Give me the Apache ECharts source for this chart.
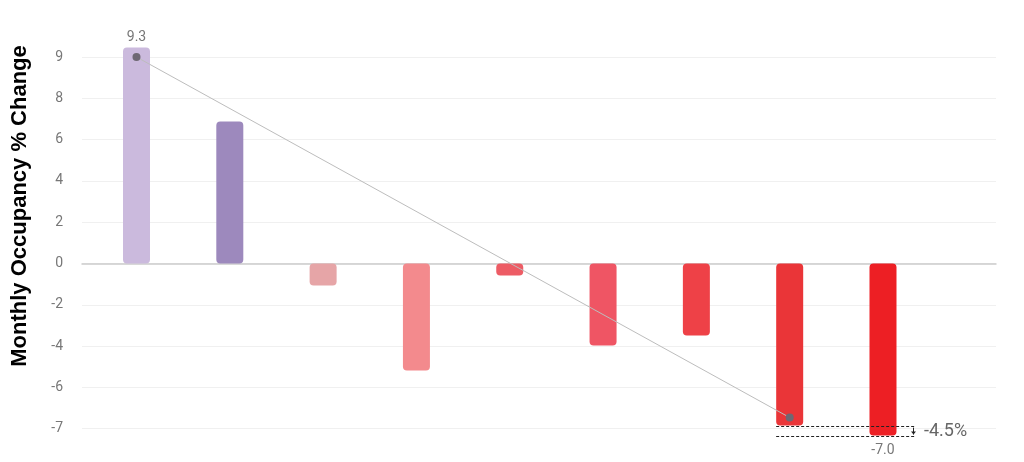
<!DOCTYPE html>
<html>
<head>
<meta charset="utf-8">
<script src="https://cdn.jsdelivr.net/npm/echarts@6/dist/echarts.min.js"></script>
<style>
html,body{margin:0;padding:0;background:#fff;}
#chart{width:1024px;height:462px;}
</style>
</head>
<body>
<div id="chart"></div>
<script>
// Month positions (no category labels shown in the reference)
const monthIndex = [0, 1, 2, 3, 4, 5, 6, 7, 8];
// Bar heights as plotted against the y axis
const values = [10.46, 6.88, -1.07, -5.18, -0.58, -3.97, -3.49, -7.85, -8.33];
const barColors = ['#cbbadd', '#9d89bd', '#e6a5a7', '#f38a8d', '#ed5c65', '#ef5564', '#ee4147', '#ea3538', '#ed1f24'];
// Value labels shown on bars
const valueLabels = ['9.3', '', '', '', '', '', '', '', '-7.0'];
// Trend line endpoints (month index, value)
const trendIndex = [0, 7];
const trendValues = [10.0, -7.46];
// Y tick labels as printed
const yTickValues = [10, 8, 6, 4, 2, 0, -2, -4, -6, -8];
const yTickTexts = ['9', '8', '6', '4', '2', '0', '-2', '-4', '-6', '-7'];
const yTitle = 'Monthly Occupancy % Change';
const changeText = '-4.5%';

const chart = echarts.init(document.getElementById('chart'), null, {renderer: 'canvas'});

const barData = monthIndex.map((m, i) => ({
  value: [m, values[i]],
  itemStyle: {color: barColors[i]},
  label: valueLabels[i] ? {
    show: true,
    position: values[i] >= 0 ? 'top' : 'bottom',
    formatter: valueLabels[i],
    color: '#777',
    fontSize: 14,
    fontFamily: 'Roboto',
    distance: values[i] >= 0 ? 3 : 8
  } : {show: false}
}));

const last = monthIndex.length - 1;
const prev = last - 1;

const option = {
  animation: false,
  backgroundColor: '#fff',
  grid: {left: 82, right: 28, top: 57, bottom: 33.3},
  xAxis: {
    type: 'value',
    min: -0.584,
    max: 9.211,
    axisLine: {show: true, onZero: true, lineStyle: {color: '#cccccc', width: 1.5}},
    axisTick: {show: false},
    axisLabel: {show: false},
    splitLine: {show: false}
  },
  yAxis: {
    type: 'value',
    min: -8,
    max: 10,
    interval: 2,
    axisLine: {show: false},
    axisTick: {show: false},
    axisLabel: {
      color: '#777',
      fontSize: 14,
      fontFamily: 'Roboto',
      margin: 19,
      formatter: v => {
        const k = yTickValues.indexOf(v);
        return k >= 0 ? yTickTexts[k] : '';
      }
    },
    splitLine: {lineStyle: {color: '#f0f0f0', width: 1}}
  },
  series: [
    {
      type: 'bar',
      data: barData,
      barWidth: 27,
      clip: false,
      itemStyle: {borderRadius: 4},
      z: 2
    },
    {
      type: 'line',
      data: trendIndex.map((m, i) => [m, trendValues[i]]),
      symbol: 'circle',
      symbolSize: 8,
      clip: false,
      itemStyle: {color: '#6e6873'},
      lineStyle: {color: '#bdbdbd', width: 1},
      z: 5
    }
  ]
};
chart.setOption(option);

// Annotation (dashed comparison lines, arrow, change text) and y title
const px = p => chart.convertToPixel({seriesIndex: 0}, p);
const xStart = monthIndex[prev] - 0.145;
const xEnd = monthIndex[last] + 0.343;
const xArrow = monthIndex[last] + 0.317;
const a1 = px([xStart, values[prev]]), a2 = px([xEnd, values[prev]]);
const b1 = px([xStart, values[last]]), b2 = px([xEnd, values[last]]);
const ar = px([xArrow, values[prev]]), arB = px([xArrow, values[last]]);
const dash = {stroke: '#222', lineWidth: 1, lineDash: [3, 2]};
chart.setOption({
  graphic: [
    {type: 'line', shape: {x1: a1[0], y1: Math.round(a1[1]) + 0.5, x2: a2[0], y2: Math.round(a2[1]) + 0.5}, style: dash, z: 10},
    {type: 'line', shape: {x1: b1[0], y1: Math.round(b1[1]) + 0.5, x2: b2[0], y2: Math.round(b2[1]) + 0.5}, style: dash, z: 10},
    {type: 'line', shape: {x1: Math.round(ar[0]) + 0.5, y1: ar[1] + 2, x2: Math.round(ar[0]) + 0.5, y2: arB[1] - 1}, style: {stroke: '#222', lineWidth: 1}, z: 10},
    {type: 'polygon', shape: {points: [[Math.round(ar[0]) - 2, arB[1] - 4], [Math.round(ar[0]) + 3, arB[1] - 4], [Math.round(ar[0]) + 0.5, arB[1] - 1]]}, style: {fill: '#222'}, z: 10},
    {
      type: 'text',
      x: b2[0] + 9,
      y: (a2[1] + b2[1]) / 2 + 1,
      style: {text: changeText, fill: '#666', fontSize: 18, fontFamily: 'Roboto', verticalAlign: 'middle'},
      z: 10
    },
    {
      type: 'text',
      x: 20,
      y: 206,
      rotation: Math.PI / 2,
      style: {text: yTitle, fill: '#000', fontSize: 22, fontWeight: 'bold', fontFamily: 'Liberation Sans', align: 'center', verticalAlign: 'middle'}
    }
  ]
});
</script>
</body>
</html>
